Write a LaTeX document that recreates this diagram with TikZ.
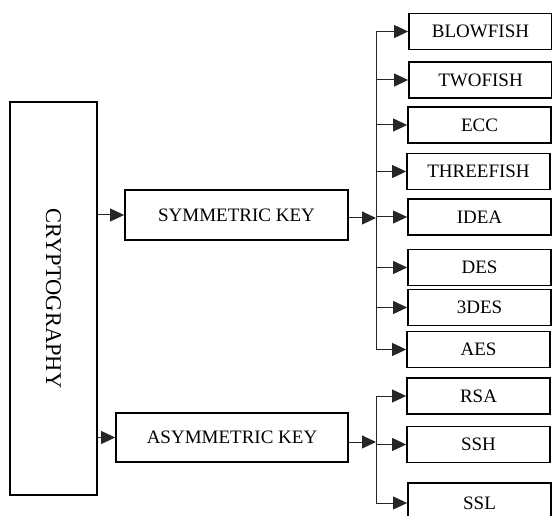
\documentclass[tikz,border=0pt]{standalone}
\usepackage{fontspec}
\setmainfont{Liberation Serif}
\usepackage{graphicx}
\usetikzlibrary{arrows.meta}

\begin{document}
\begin{tikzpicture}[x=1pt, y=-1pt,
  box/.style={draw=black, line width=1.8pt, inner sep=0pt, align=center,
    font=\fontsize{19}{22}\selectfont},
  alg/.style={box, minimum width=143pt, minimum height=36pt},
  e/.style={-{Triangle[length=14pt,width=13pt]}, line width=1pt, black!85},
  bus/.style={line width=1pt, black!85}
]
  \useasboundingbox (0,0) rectangle (552,516);
  \clip (0,0) rectangle (552,516);
  % root and the two kinds of key
  \node[box, minimum width=87pt, minimum height=393pt, font=\fontsize{22.5}{25}\selectfont]
    (crypto) at (53.5,298.5) {\rotatebox{-90}{CRYPTOGRAPHY}};
  \node[box, minimum width=223pt, minimum height=50pt] (sym) at (236.5,215) {SYMMETRIC KEY};
  \node[box, minimum width=232pt, minimum height=49pt] (asym) at (232,437.5) {ASYMMETRIC KEY};
  % symmetric algorithms
  \node[alg] (blowfish) at (480.5,31.5) {BLOWFISH};
  \node[alg] (twofish) at (480.5,80) {TWOFISH};
  \node[alg] (ecc) at (479.5,125) {ECC};
  \node[alg] (threefish) at (478.5,171.5) {THREEFISH};
  \node[alg] (idea) at (479.5,217) {IDEA};
  \node[alg] (des) at (479.5,267.5) {DES};
  \node[alg] (tdes) at (479.5,307.5) {3DES};
  \node[alg] (aes) at (478.5,349.5) {AES};
  % asymmetric algorithms
  \node[alg] (rsa) at (478.5,396) {RSA};
  \node[alg] (ssh) at (478.5,444.5) {SSH};
  \node[alg, minimum height=40pt] (ssl) at (479.5,503) {SSL};
  \coordinate (sbus) at (376,218);
  \coordinate (abus) at (376,442);
  \draw[e] (crypto.east |- sym.west) -- (sym.west);
  \draw[e] (crypto.east |- asym.west) -- (asym.west);
  \draw[e] (sym.east |- sbus) -- (sbus);
  \draw[e] (asym.east |- abus) -- (abus);
  \draw[bus] (sbus |- blowfish.west) -- (sbus |- aes.west);
  \draw[bus] (abus |- rsa.west) -- (abus |- ssl.west);
  \foreach \n in {blowfish,twofish,ecc,threefish,idea,des,tdes,aes}
    \draw[e] (sbus |- \n.west) -- (\n.west);
  \foreach \n in {rsa,ssh,ssl}
    \draw[e] (abus |- \n.west) -- (\n.west);
\end{tikzpicture}
\end{document}
